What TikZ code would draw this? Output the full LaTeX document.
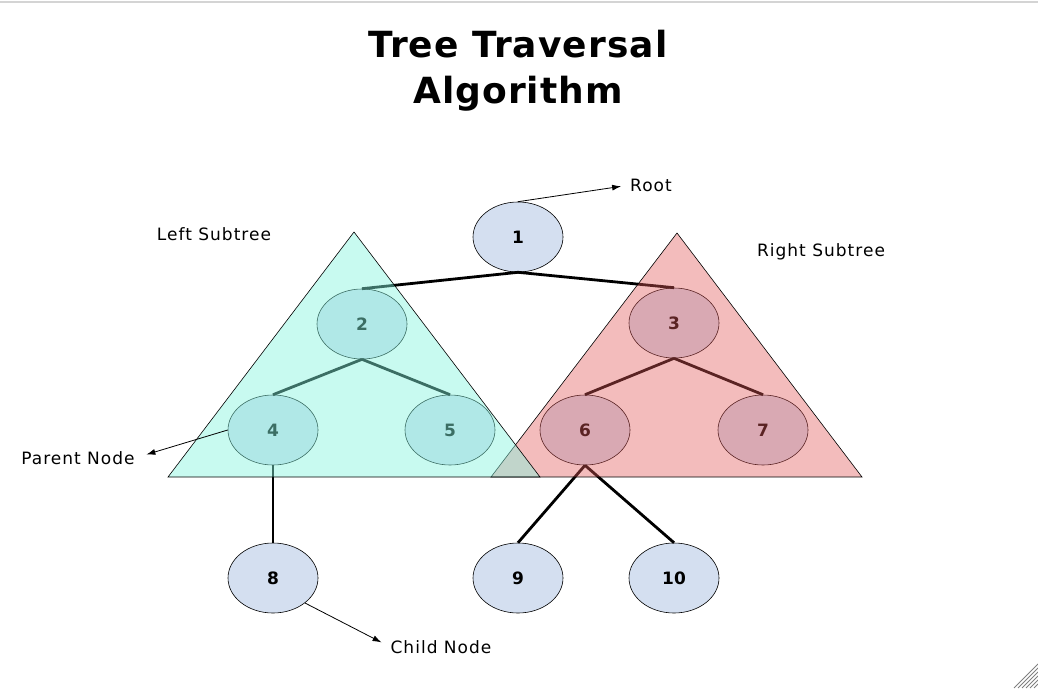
\documentclass[tikz,border=0pt]{standalone}
\usepackage{fontspec}
\setmainfont{DejaVu Sans}
\usepackage{tikz}
\usetikzlibrary{arrows.meta, positioning, shapes.geometric}

\definecolor{nodeblue}{HTML}{D4DFF0}
\definecolor{leftmint}{RGB}{133,244,222}
\definecolor{rightrose}{RGB}{225,88,88}
\definecolor{framegray}{HTML}{D4D4D4}

\tikzset{
	treenode/.style={ellipse, draw=black, line width=0.6pt, fill=nodeblue,
		minimum width=90pt, minimum height=70pt, inner sep=0pt,
		font=\bfseries\fontsize{17}{17}\selectfont},
	branch/.style={line width=2.8pt},
	pointer/.style={-{Latex[length=9pt,width=6pt]}, line width=0.8pt},
	caption/.style={inner sep=0pt, font=\fontsize{17}{20}\selectfont\addfontfeatures{LetterSpace=6}},
	heading/.style={anchor=base, font=\bfseries\fontsize{36}{42}\selectfont\addfontfeatures{LetterSpace=3}},
	subtree/.style={draw=black, line width=0.6pt, fill opacity=0.45},
}

\begin{document}
\begin{tikzpicture}[x=1pt, y=-1pt, >=Latex]

		\useasboundingbox (0,0) rectangle (1038,688);
		\draw[framegray, line width=2pt] (0,2) -- (1038,2);

		% Titulo
		\node[heading] (title) at (518,57) {Tree Traversal};
		\node[heading] (title2) at (518,103) {Algorithm};

		% Nodos
		\node[treenode] (n1) at (518,237) {1};
		\node[treenode] (n2) at (362,324) {2};
		\node[treenode] (n3) at (674,323) {3};
		\node[treenode] (n4) at (273,430) {4};
		\node[treenode] (n5) at (450,430) {5};
		\node[treenode] (n6) at (585,430) {6};
		\node[treenode] (n7) at (763,430) {7};
		\node[treenode] (n8) at (273,578) {8};
		\node[treenode] (n9) at (518,578) {9};
		\node[treenode] (n10) at (674,578) {10};

		% Aristas
		\draw[branch] (n1.south) -- (n2.north);
		\draw[branch] (n1.south) -- (n3.north);
		\draw[branch] (n2.south) -- (n4.north);
		\draw[branch] (n2.south) -- (n5.north);
		\draw[branch] (n3.south) -- (n6.north);
		\draw[branch] (n3.south) -- (n7.north);
		\draw[branch] (n4.south) -- (n8.north);
		\draw[branch] (n6.south) -- (n9.north);
		\draw[branch] (n6.south) -- (n10.north);

		% Subarboles
		\draw[subtree, fill=rightrose, fill opacity=0.4] (677,233) -- (491,477) -- (862,477) -- cycle;
		\draw[subtree, fill=leftmint] (354,232) -- (168,477) -- (540,477) -- cycle;

		% Etiquetas
		\node[caption] (root) at (651,185) {Root};
		\node[caption] (left) at (214,234) {Left Subtree};
		\node[caption] (right) at (821,252) {Right Subtree};
		\node[caption] (parent) at (78,458) {Parent Node};
		\node[caption] (child) at (441,647) {Child Node};

		\draw[pointer, shorten >=9pt] (n1.north) -- (root.west);
		\draw[pointer, shorten >=12pt] (n4.west) -- (parent.east);
		\draw[pointer, shorten >=10pt] (n8.-38) -- (child.west);

		% Esquina
		\foreach \k in {0,...,5}
			\draw[gray, line width=0.9pt] (1014+4*\k,688) -- (1038,664+4*\k);
	\end{tikzpicture}
\end{document}
